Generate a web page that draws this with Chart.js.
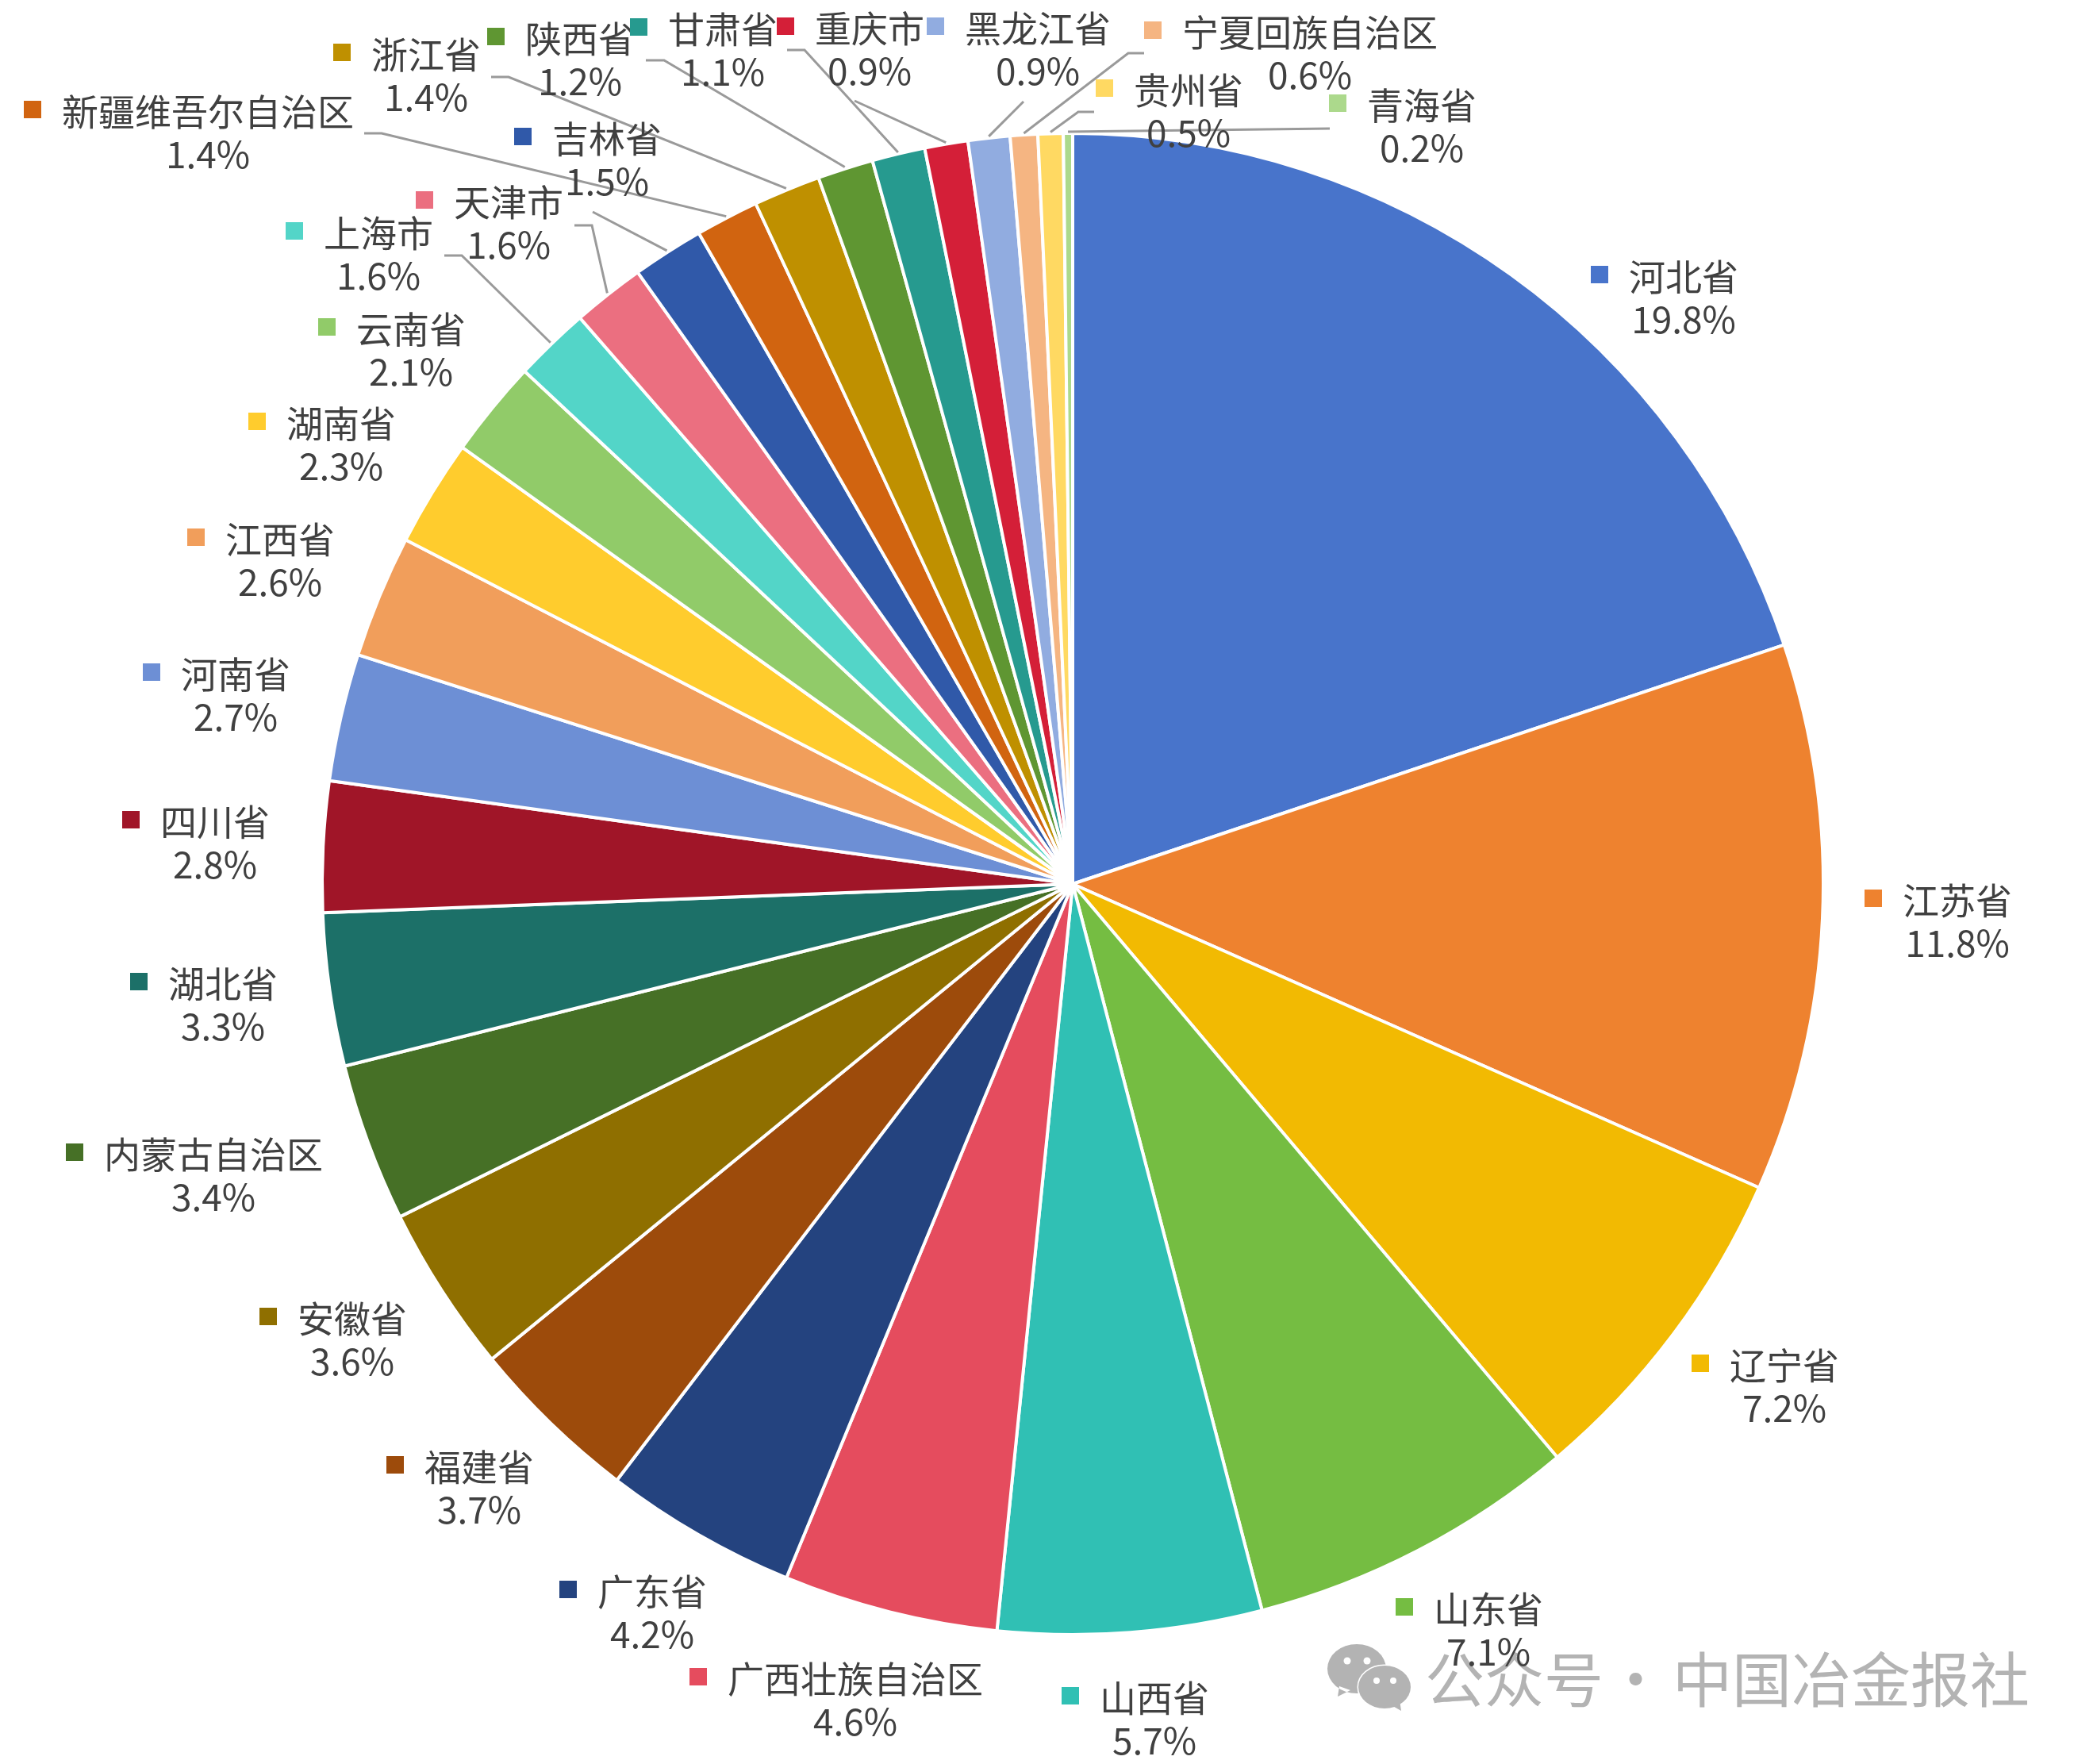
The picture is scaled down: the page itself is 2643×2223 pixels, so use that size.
<!DOCTYPE html>
<html>
<head>
<meta charset="utf-8">
<style>
  html, body { margin: 0; padding: 0; background: #fff; }
  canvas { display: block; }
</style>
<script src="https://cdn.jsdelivr.net/npm/chart.js@4/dist/chart.umd.min.js"></script>
</head>
<body>
<canvas id="pie" width="2643" height="2223"></canvas>
<script>
const provinces = ['河北省','江苏省','辽宁省','山东省','山西省','广西壮族自治区','广东省','福建省','安徽省','内蒙古自治区','湖北省','四川省','河南省','江西省','湖南省','云南省','上海市','天津市','吉林省','新疆维吾尔自治区','浙江省','陕西省','甘肃省','重庆市','黑龙江省','宁夏回族自治区','贵州省','青海省'];
// second decimal, labels show one decimal
const shares = [19.84,11.79,7.2,7.11,5.67,4.62,4.16,3.7,3.6,3.41,3.29,2.81,2.74,2.64,2.3,2.09,1.63,1.56,1.54,1.36,1.44,1.2,1.14,0.93,0.9,0.59,0.54,0.2];
const sliceColors = ['#4874CB','#EE822F','#F2BA02','#75BD42','#30C0B4','#E54C5E','#24437F','#9D4B0B','#8F6F00','#467026','#1C7068','#A01528','#6D8FD5','#F19E5B','#FFCC2D','#91CB69','#53D5C8','#EB6F80','#3059A9','#D16410','#BF9000','#5F9632','#269A8F','#D41F38','#91ACE0','#F5B582','#FFD962','#ACD98C'];

// label placement, same order as provinces: text centre x, first line y
const labelX = [2122,2467,2249,1876,1455,1078,822,604,444,269,281,271,297,353,430,518,477,641,765,262,537,731,911,1096,1308,1651,1498,1792];
const labelY = [349,1135,1721,2028,2140,2116,2006,1849,1662,1455,1240,1036,850,680,534,415,294,255,175,141,69,49,37,36,36,41,114,133];

// leader lines: slice index, then the points before the slice edge
const leaders = [
  [18, [747,267]],
  [17, [724,284],[746,284]],
  [16, [560,322],[582,322]],
  [19, [459,168],[481,168]],
  [20, [619,97],[641,97]],
  [21, [814,76],[837,76]],
  [22, [992,63],[1014,63]],
  [23, [1077,127]],
  [24, [1290,128]],
  [25, [1442,67],[1422,67]],
  [26, [1379,141],[1359,141]],
  [27, [1676,162]]
];

const TEXT_FONT = '46px "Noto Sans CJK SC"';
const LINE_GAP = 54;
const SWATCH = 22;

function drawWatermark(ctx) {
  ctx.save();
  ctx.fillStyle = '#B3B3B3';
  ctx.font = '75px "Noto Sans CJK SC"';
  ctx.textBaseline = 'middle';
  ctx.textAlign = 'left';
  ctx.fillText('公众号', 1796, 2116);
  ctx.fillText('·', 2024, 2116);
  ctx.fillText('中国冶金报社', 2108, 2116);

  // wechat icon, two speech bubbles
  ctx.beginPath();
  ctx.ellipse(1710, 2103, 37, 31, 0, 0, Math.PI * 2);
  ctx.moveTo(1688, 2125);
  ctx.lineTo(1686, 2138);
  ctx.lineTo(1702, 2130);
  ctx.fill();
  ctx.strokeStyle = '#fff';
  ctx.lineWidth = 3;
  ctx.fillStyle = '#B3B3B3';
  ctx.beginPath();
  ctx.ellipse(1745, 2126, 33, 27, 0, 0, Math.PI * 2);
  ctx.stroke();
  ctx.fill();
  ctx.beginPath();
  ctx.moveTo(1752, 2148);
  ctx.lineTo(1766, 2156);
  ctx.lineTo(1764, 2142);
  ctx.fill();
  ctx.fillStyle = '#fff';
  [[1698,2093,4.5],[1723,2093,4.5],[1735,2118,4],[1756,2118,4]].forEach(e => {
    ctx.beginPath();
    ctx.arc(e[0], e[1], e[2], 0, Math.PI * 2);
    ctx.fill();
  });
  ctx.restore();
}

const pieLabels = {
  id: 'pieLabels',
  afterDatasetsDraw(chart) {
    const ctx = chart.ctx;
    const arcs = chart.getDatasetMeta(0).data;

    drawWatermark(ctx);

    // leaders go from the given points to just off the slice edge
    ctx.save();
    ctx.strokeStyle = '#9A9A9A';
    ctx.lineWidth = 3;
    leaders.forEach(l => {
      const arc = arcs[l[0]];
      const mid = (arc.startAngle + arc.endAngle) / 2;
      const r = arc.outerRadius + 2;
      ctx.beginPath();
      l.slice(1).forEach((p, i) => i ? ctx.lineTo(p[0], p[1]) : ctx.moveTo(p[0], p[1]));
      ctx.lineTo(arc.x + Math.cos(mid) * r, arc.y + Math.sin(mid) * r);
      ctx.stroke();
    });
    ctx.restore();

    ctx.save();
    ctx.font = TEXT_FONT;
    ctx.textAlign = 'center';
    ctx.textBaseline = 'middle';
    provinces.forEach((name, i) => {
      const w = ctx.measureText(name).width;
      ctx.fillStyle = sliceColors[i];
      ctx.fillRect(labelX[i] - w / 2 - 37 - SWATCH / 2, labelY[i] - 3 - SWATCH / 2, SWATCH, SWATCH);
      ctx.fillStyle = '#404040';
      ctx.fillText(name, labelX[i], labelY[i]);
      ctx.fillText(shares[i].toFixed(1) + '%', labelX[i], labelY[i] + LINE_GAP);
    });
    ctx.restore();
  }
};

new Chart(document.getElementById('pie'), {
  type: 'pie',
  data: {
    labels: provinces,
    datasets: [{
      data: shares,
      backgroundColor: sliceColors,
      borderColor: '#fff',
      borderWidth: 4
    }]
  },
  options: {
    responsive: false,
    animation: false,
    devicePixelRatio: 1,
    layout: { padding: { left: 404, right: 343, top: 166, bottom: 161 } },
    plugins: { legend: { display: false }, tooltip: { enabled: false } }
  },
  plugins: [pieLabels]
});
</script>
</body>
</html>
